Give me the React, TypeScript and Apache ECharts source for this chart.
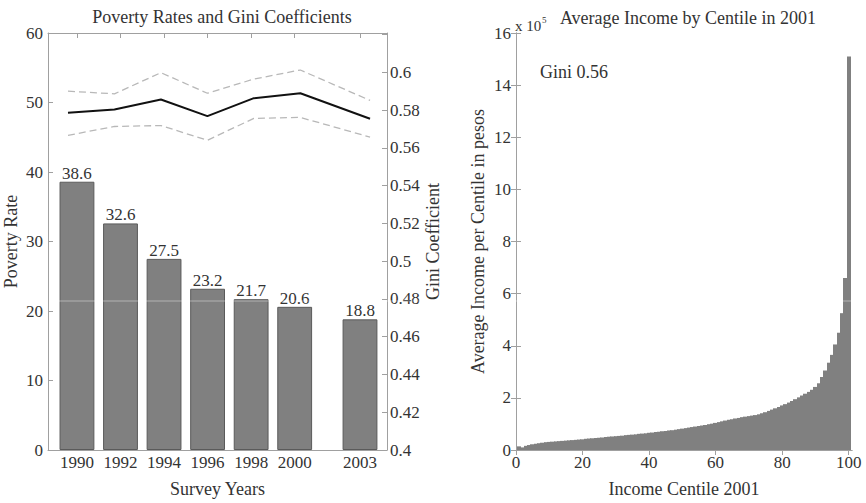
import React, { useEffect, useRef } from 'react';
import * as echarts from 'echarts';

const FONT = "'Liberation Serif', serif";
const TEXT = '#333333';
const AXIS = '#a0a0a0';

// Left panel data
const surveyYears = [1990, 1992, 1994, 1996, 1998, 2000, 2003];
const povertyRate = [38.6, 32.6, 27.5, 23.2, 21.7, 20.6, 18.8];
const giniCoef = [0.5786, 0.5803, 0.5856, 0.5768, 0.5863, 0.5889, 0.5754];
const giniUpper = [0.59, 0.5886, 0.5998, 0.5889, 0.5964, 0.6012, 0.5851];
const giniLower = [0.5666, 0.5713, 0.5718, 0.564, 0.5756, 0.5761, 0.5657];
const povertyTicks = [0, 10, 20, 30, 40, 50, 60];

// Right panel data (average income, in units of 10^5 pesos)
const centiles = Array.from({ length: 100 }, (_, i) => i + 1);
const avgIncome = [
  0.14, 0.1, 0.16, 0.19, 0.22, 0.24, 0.26, 0.28, 0.3, 0.31,
  0.32, 0.33, 0.34, 0.35, 0.36, 0.37, 0.38, 0.39, 0.4, 0.41,
  0.43, 0.44, 0.45, 0.46, 0.47, 0.48, 0.5, 0.51, 0.52, 0.53,
  0.54, 0.55, 0.57, 0.58, 0.59, 0.6, 0.62, 0.63, 0.64, 0.66,
  0.67, 0.69, 0.7, 0.72, 0.73, 0.75, 0.76, 0.78, 0.8, 0.82,
  0.84, 0.86, 0.88, 0.9, 0.92, 0.94, 0.96, 0.99, 1.01, 1.04,
  1.07, 1.1, 1.13, 1.16, 1.18, 1.21, 1.23, 1.26, 1.28, 1.3,
  1.32, 1.34, 1.37, 1.41, 1.45, 1.5, 1.55, 1.6, 1.65, 1.71,
  1.76, 1.82, 1.88, 1.95, 2.02, 2.09, 2.16, 2.23, 2.31, 2.42,
  2.56, 2.8, 3.05, 3.35, 3.65, 4.05, 4.5, 5.25, 6.6, 15.1,
];
const centileTicks = [0, 20, 40, 60, 80, 100];

const tickText = { fontFamily: FONT, fontSize: 17, color: TEXT };
const nameText = { fontFamily: FONT, fontSize: 18, color: TEXT };
const axisLine = { show: true, lineStyle: { color: AXIS, width: 1 } };

function renderCentileBar(params: any, api: any) {
  const c = api.value(0);
  const v = api.value(1);
  const topLeft = api.coord([c - 0.5, v]);
  const bottomRight = api.coord([c + 0.5, 0]);
  const x0 = Math.floor(topLeft[0]);
  const x1 = Math.ceil(bottomRight[0]);
  return {
    type: 'rect',
    shape: { x: x0, y: topLeft[1], width: x1 - x0, height: bottomRight[1] - topLeft[1] },
    style: { fill: '#808080' },
  };
}

function buildOption(): any {
  return {
    animation: false,
    backgroundColor: '#ffffff',
    textStyle: { fontFamily: FONT },
    title: [
      {
        text: 'Poverty Rates and Gini Coefficients',
        left: 217,
        top: 3,
        textAlign: 'center',
        textStyle: { ...nameText, fontWeight: 'normal' },
      },
      {
        text: 'Average Income by Centile in 2001',
        left: 683,
        top: 4,
        textAlign: 'center',
        textStyle: { ...nameText, fontWeight: 'normal' },
      },
    ],
    grid: [
      { left: 48, right: 479, top: 33, bottom: 45 },
      { left: 516, right: 14, top: 33, bottom: 45 },
    ],
    xAxis: [
      {
        type: 'value',
        gridIndex: 0,
        position: 'bottom',
        min: 1988.67,
        max: 2004.24,
        name: 'Survey Years',
        nameLocation: 'middle',
        nameGap: 30,
        nameTextStyle: nameText,
        axisLine,
        splitLine: { show: false },
        axisTick: { show: true, inside: true, length: 5, customValues: surveyYears, lineStyle: { color: AXIS } },
        axisLabel: { ...tickText, margin: 4, customValues: surveyYears, formatter: (v: number) => String(v) },
      },
      {
        type: 'value',
        gridIndex: 0,
        position: 'top',
        min: 1988.67,
        max: 2004.24,
        axisLine,
        splitLine: { show: false },
        axisTick: { show: true, inside: true, length: 5, customValues: surveyYears, lineStyle: { color: AXIS } },
        axisLabel: { show: false },
      },
      {
        type: 'value',
        gridIndex: 0,
        show: false,
        min: 1989.14,
        max: 2003.73,
      },
      {
        type: 'value',
        gridIndex: 1,
        position: 'bottom',
        min: 0,
        max: 101,
        name: 'Income Centile 2001',
        nameLocation: 'middle',
        nameGap: 30,
        nameTextStyle: nameText,
        axisLine,
        splitLine: { show: false },
        axisTick: { show: true, inside: true, length: 5, customValues: centileTicks, lineStyle: { color: AXIS } },
        axisLabel: { ...tickText, margin: 4, customValues: centileTicks },
      },
      {
        type: 'value',
        gridIndex: 1,
        position: 'top',
        min: 0,
        max: 101,
        axisLine,
        splitLine: { show: false },
        axisTick: { show: true, inside: true, length: 5, customValues: centileTicks, lineStyle: { color: AXIS } },
        axisLabel: { show: false },
      },
    ],
    yAxis: [
      {
        type: 'value',
        gridIndex: 0,
        position: 'left',
        min: 0,
        max: 60,
        interval: 10,
        name: 'Poverty Rate',
        nameLocation: 'middle',
        nameRotate: 90,
        nameGap: 28,
        nameTextStyle: nameText,
        axisLine,
        splitLine: { show: false },
        axisTick: { show: true, inside: true, length: 5, lineStyle: { color: AXIS } },
        axisLabel: { ...tickText, margin: 5, customValues: povertyTicks },
      },
      {
        type: 'value',
        gridIndex: 0,
        position: 'right',
        min: 0.4,
        max: 0.6208,
        interval: 0.02,
        name: 'Gini Coefficient',
        nameLocation: 'middle',
        nameRotate: 90,
        nameGap: 37,
        nameTextStyle: nameText,
        axisLine,
        splitLine: { show: false },
        axisTick: { show: true, inside: true, length: 5, lineStyle: { color: AXIS } },
        axisLabel: {
          ...tickText,
          margin: 3,
          formatter: (v: number) => (v > 0.6005 ? '' : String(Number(v.toFixed(2)))),
        },
      },
      {
        type: 'value',
        gridIndex: 1,
        position: 'left',
        min: 0,
        max: 16,
        interval: 2,
        name: 'Average Income per Centile in pesos',
        nameLocation: 'middle',
        nameRotate: 90,
        nameGap: 29,
        nameTextStyle: nameText,
        axisLine,
        splitLine: { show: false },
        axisTick: { show: true, inside: true, length: 5, lineStyle: { color: AXIS } },
        axisLabel: { ...tickText, margin: 5 },
      },
      {
        type: 'value',
        gridIndex: 1,
        position: 'right',
        min: 0,
        max: 16,
        interval: 2,
        axisLine,
        splitLine: { show: false },
        axisTick: { show: true, inside: true, length: 5, lineStyle: { color: AXIS } },
        axisLabel: { show: false },
      },
    ],
    series: [
      {
        type: 'bar',
        xAxisIndex: 0,
        yAxisIndex: 0,
        barWidth: '80%',
        data: surveyYears.map((y, i) => [y, povertyRate[i]]),
        itemStyle: { color: '#808080', borderColor: '#5a5a5a', borderWidth: 1 },
        label: {
          show: true,
          position: 'top',
          distance: 0,
          ...tickText,
          formatter: (p: any) => p.value[1].toFixed(1),
        },
        z: 2,
      },
      {
        type: 'line',
        xAxisIndex: 2,
        yAxisIndex: 1,
        data: surveyYears.map((y, i) => [y, giniUpper[i]]),
        symbol: 'none',
        lineStyle: { color: '#b8b8b8', width: 1.3, type: [7, 4] },
        z: 3,
      },
      {
        type: 'line',
        xAxisIndex: 2,
        yAxisIndex: 1,
        data: surveyYears.map((y, i) => [y, giniLower[i]]),
        symbol: 'none',
        lineStyle: { color: '#b8b8b8', width: 1.3, type: [7, 4] },
        z: 3,
      },
      {
        type: 'line',
        xAxisIndex: 2,
        yAxisIndex: 1,
        data: surveyYears.map((y, i) => [y, giniCoef[i]]),
        symbol: 'none',
        lineStyle: { color: '#111111', width: 2 },
        z: 4,
      },
      {
        type: 'custom',
        xAxisIndex: 3,
        yAxisIndex: 2,
        renderItem: renderCentileBar,
        encode: { x: 0, y: 1 },
        data: centiles.map((c, i) => [c, avgIncome[i]]),
        clip: true,
      },
    ],
    graphic: [
      {
        type: 'text',
        left: 540,
        top: 63,
        style: { text: 'Gini 0.56', font: `18px ${FONT}`, fill: TEXT },
      },
      {
        type: 'text',
        left: 515,
        top: 18,
        style: { text: 'x 10', font: `15px ${FONT}`, fill: TEXT },
      },
      {
        type: 'text',
        left: 542,
        top: 15,
        style: { text: '5', font: `9px ${FONT}`, fill: TEXT },
      },
      {
        type: 'line',
        shape: { x1: 49, y1: 301, x2: 851, y2: 301 },
        style: { stroke: '#ffffff', opacity: 0.4, lineWidth: 1 },
        z: 100,
      },
    ],
  };
}

export default function App() {
  const ref = useRef<HTMLDivElement>(null);
  useEffect(() => {
    if (!ref.current) return;
    const chart = echarts.init(ref.current, null, { renderer: 'svg' });
    chart.setOption(buildOption());
    return () => chart.dispose();
  }, []);
  return (
    <div
      ref={ref}
      style={{ position: 'fixed', left: 0, top: 0, width: 866, height: 503, background: '#ffffff' }}
    />
  );
}
